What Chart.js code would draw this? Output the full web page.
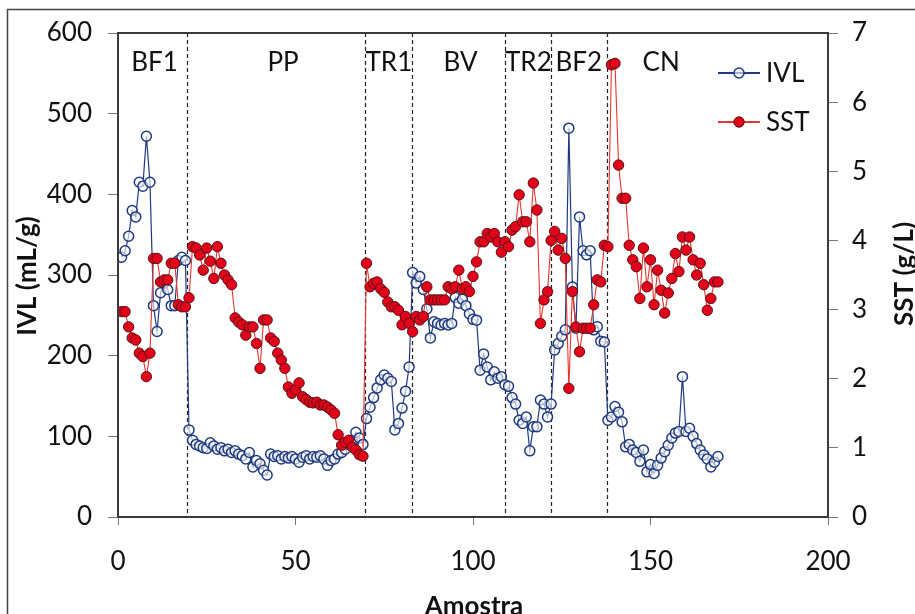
<!DOCTYPE html>
<html lang="pt">
<head>
<meta charset="utf-8">
<title>IVL e SST por amostra</title>
<script src="https://cdn.jsdelivr.net/npm/chart.js@4.4.1/dist/chart.umd.min.js"></script>
<style>
  html, body { margin: 0; padding: 0; background: #fff; }
  #grafico { display: block; }
</style>
</head>
<body>
<canvas id="grafico" width="915" height="614"></canvas>
<script>
// Valores (amostra 1..169)
const ivl = [
    322, 330, 348, 380, 372, 415, 410, 472, 415, 262,
    230, 278, 290, 282, 262, 262, 318, 322, 318, 108,
    95, 90, 88, 86, 85, 92, 88, 84, 86, 82,
    84, 80, 82, 78, 76, 72, 80, 62, 70, 66,
    58, 52, 78, 75, 76, 72, 75, 73, 75, 72,
    68, 74, 76, 72, 75, 74, 76, 72, 64, 70,
    72, 78, 80, 84, 90, 95, 105, 98, 90, 122,
    136, 148, 160, 170, 176, 172, 168, 108, 116, 135,
    156, 186, 303, 290, 298, 282, 258, 222, 242, 240,
    238, 240, 238, 240, 272, 265, 270, 262, 252, 245,
    244, 182, 202, 186, 170, 180, 172, 174, 164, 162,
    148, 140, 120, 116, 124, 82, 112, 112, 145, 140,
    124, 140, 207, 215, 224, 232, 482, 285, 234, 372,
    330, 325, 330, 232, 236, 218, 217, 120, 124, 137,
    130, 118, 87, 90, 83, 80, 69, 83, 56, 65,
    54, 64, 73, 81, 89, 98, 104, 106, 174, 106,
    110, 100, 91, 83, 77, 72, 62, 68, 75
];
const sst = [
    2.97, 2.97, 2.75, 2.59, 2.56, 2.37, 2.32, 2.03, 2.37, 3.74,
    3.74, 3.40, 3.43, 3.43, 3.67, 3.67, 3.07, 3.04, 3.04, 3.17,
    3.91, 3.89, 3.79, 3.57, 3.89, 3.70, 3.45, 3.91, 3.67, 3.50,
    3.43, 3.36, 2.88, 2.82, 2.78, 2.63, 2.75, 2.75, 2.51, 2.15,
    2.85, 2.85, 2.59, 2.54, 2.37, 2.27, 2.15, 1.88, 1.79, 1.84,
    1.94, 1.74, 1.70, 1.66, 1.65, 1.66, 1.62, 1.62, 1.59, 1.55,
    1.50, 1.19, 1.04, 1.08, 1.11, 1.01, 0.97, 0.90, 0.88, 3.67,
    3.33, 3.38, 3.40, 3.30, 3.25, 3.11, 3.04, 3.04, 2.99, 2.78,
    2.90, 2.80, 2.68, 2.90, 2.85, 2.90, 3.33, 3.14, 3.14, 3.14,
    3.14, 3.14, 3.33, 3.30, 3.33, 3.57, 3.30, 3.33, 3.26, 3.48,
    3.69, 3.98, 3.98, 4.10, 4.05, 4.10, 3.98, 3.83, 3.98, 3.91,
    4.15, 4.20, 4.66, 4.27, 4.27, 3.98, 4.83, 4.44, 2.80, 3.14,
    3.26, 4.00, 4.13, 3.86, 4.03, 3.74, 1.86, 3.26, 2.75, 2.39,
    2.73, 2.73, 2.73, 3.07, 3.43, 3.40, 3.93, 3.91, 6.54, 6.56,
    5.09, 4.61, 4.61, 3.93, 3.72, 3.62, 3.16, 3.89, 3.33, 3.72,
    3.07, 3.57, 3.28, 2.95, 3.24, 3.45, 3.81, 3.55, 4.05, 3.86,
    4.05, 3.72, 3.50, 3.67, 3.36, 2.99, 3.16, 3.40, 3.40
];

// Fases do ensaio: nomes, centro do rótulo e limites (em número de amostra)
const fases = ['BF1', 'PP', 'TR1', 'BV', 'TR2', 'BF2', 'CN'];
const centrosFases = [10.3, 46.5, 76.3, 96.5, 115.6, 129.8, 153];
const limitesFases = [19.5, 69.5, 82.8, 109.1, 121.9, 137.7];

const ticksAmostra = [0, 50, 100, 150, 200];
const ticksIVL = [0, 100, 200, 300, 400, 500, 600];
const ticksSST = [0, 1, 2, 3, 4, 5, 6, 7];

const FONTE = 'Lato, "Open Sans", sans-serif';
const COR_TEXTO = '#111';
const AZUL = '#1f3a7e';
const VERMELHO = '#e8352e';

function pontos(valores) {
    return valores.map((v, i) => ({ x: i + 1, y: v }));
}

function marcarTicks(lista) {
    return function(scale) {
        scale.ticks = lista.map(v => ({ value: v }));
    };
}

const decoracao = {
    id: 'decoracao',
    beforeDraw(chart) {
        const ctx = chart.ctx;
        ctx.save();
        ctx.fillStyle = '#fff';
        ctx.fillRect(0, 0, chart.width, chart.height);
        // moldura externa da figura
        ctx.strokeStyle = '#444';
        ctx.lineWidth = 1.5;
        ctx.strokeRect(7.5, 9.5, chart.width + 20, chart.height + 20);
        ctx.restore();
    },
    beforeDatasetsDraw(chart) {
        const { ctx, chartArea: a, scales: { x } } = chart;
        ctx.save();
        ctx.strokeStyle = '#222';
        ctx.lineWidth = 1.2;
        ctx.setLineDash([4, 3]);
        limitesFases.forEach(v => {
            const px = Math.round(x.getPixelForValue(v)) + 0.5;
            ctx.beginPath();
            ctx.moveTo(px, a.top);
            ctx.lineTo(px, a.bottom);
            ctx.stroke();
        });
        ctx.restore();
    },
    afterDraw(chart) {
        const { ctx, chartArea: a, scales: { x } } = chart;
        ctx.save();

        // caixa da área de plotagem
        ctx.strokeStyle = '#3a3a3a';
        ctx.lineWidth = 2;
        ctx.strokeRect(a.left, a.top, a.right - a.left, a.bottom - a.top);

        // nomes das fases
        ctx.fillStyle = COR_TEXTO;
        ctx.font = '26px ' + FONTE;
        ctx.textAlign = 'center';
        ctx.textBaseline = 'middle';
        fases.forEach((f, i) => ctx.fillText(f, x.getPixelForValue(centrosFases[i]), a.top + 30));

        // legenda
        chart.data.datasets.forEach((ds, i) => {
            const y = 73 + i * 49;
            ctx.strokeStyle = ds.borderColor;
            ctx.lineWidth = 2;
            ctx.beginPath();
            ctx.moveTo(718, y);
            ctx.lineTo(760, y);
            ctx.stroke();
            ctx.beginPath();
            ctx.arc(739, y, ds.pointRadius, 0, Math.PI * 2);
            ctx.fillStyle = ds.pointBackgroundColor;
            ctx.fill();
            ctx.lineWidth = ds.pointBorderWidth;
            ctx.strokeStyle = ds.pointBorderColor;
            ctx.stroke();
            ctx.fillStyle = COR_TEXTO;
            ctx.textAlign = 'left';
            ctx.fillText(ds.label, 766, y + 1);
        });

        // títulos dos eixos
        ctx.font = 'bold 26px ' + FONTE;
        ctx.textAlign = 'center';
        ctx.textBaseline = 'middle';
        ctx.save();
        ctx.translate(28, 276);
        ctx.rotate(-Math.PI / 2);
        ctx.fillText('IVL (mL/g)', 0, 0);
        ctx.restore();
        ctx.save();
        ctx.translate(905, 274);
        ctx.rotate(-Math.PI / 2);
        ctx.fillText('SST (g/L)', 0, 0);
        ctx.restore();
        ctx.textBaseline = 'alphabetic';
        ctx.fillText('Amostra', 474, 615);

        ctx.restore();
    }
};

const fonteTicks = { family: FONTE, size: 26 };

new Chart(document.getElementById('grafico'), {
    type: 'line',
    data: {
        datasets: [
            {
                label: 'IVL',
                data: pontos(ivl),
                yAxisID: 'y',
                borderColor: AZUL,
                borderWidth: 1.2,
                pointRadius: 5,
                pointBorderWidth: 1.5,
                pointBackgroundColor: 'rgba(255,255,255,0.6)',
                pointBorderColor: AZUL,
                tension: 0,
                order: 2
            },
            {
                label: 'SST',
                data: pontos(sst),
                yAxisID: 'y1',
                borderColor: VERMELHO,
                borderWidth: 1.1,
                pointRadius: 5.2,
                pointBorderWidth: 1,
                pointBackgroundColor: '#e3001b',
                pointBorderColor: '#5a1414',
                tension: 0,
                order: 1
            }
        ]
    },
    options: {
        responsive: false,
        animation: false,
        devicePixelRatio: 1,
        layout: { padding: { top: 33, left: 0, right: 0, bottom: 0 } },
        plugins: {
            legend: { display: false },
            tooltip: { enabled: false }
        },
        scales: {
            x: {
                type: 'linear',
                min: 0,
                max: 200,
                afterBuildTicks: marcarTicks(ticksAmostra),
                afterFit: s => { s.height = 97; },
                ticks: { font: fonteTicks, color: COR_TEXTO, padding: 21, maxRotation: 0 },
                grid: { drawOnChartArea: false, tickLength: 8, color: '#777' },
                border: { display: false }
            },
            y: {
                position: 'left',
                min: 0,
                max: 600,
                afterBuildTicks: marcarTicks(ticksIVL),
                afterFit: s => { s.width = 118; },
                ticks: { font: fonteTicks, color: COR_TEXTO, padding: 16 },
                grid: { drawOnChartArea: false, tickLength: 10, color: '#777' },
                border: { display: false }
            },
            y1: {
                position: 'right',
                min: 0,
                max: 7,
                afterBuildTicks: marcarTicks(ticksSST),
                afterFit: s => { s.width = 87; },
                ticks: { font: fonteTicks, color: COR_TEXTO, padding: 14 },
                grid: { drawOnChartArea: false, tickLength: 10, color: '#777' },
                border: { display: false }
            }
        }
    },
    plugins: [decoracao]
});
</script>
</body>
</html>
